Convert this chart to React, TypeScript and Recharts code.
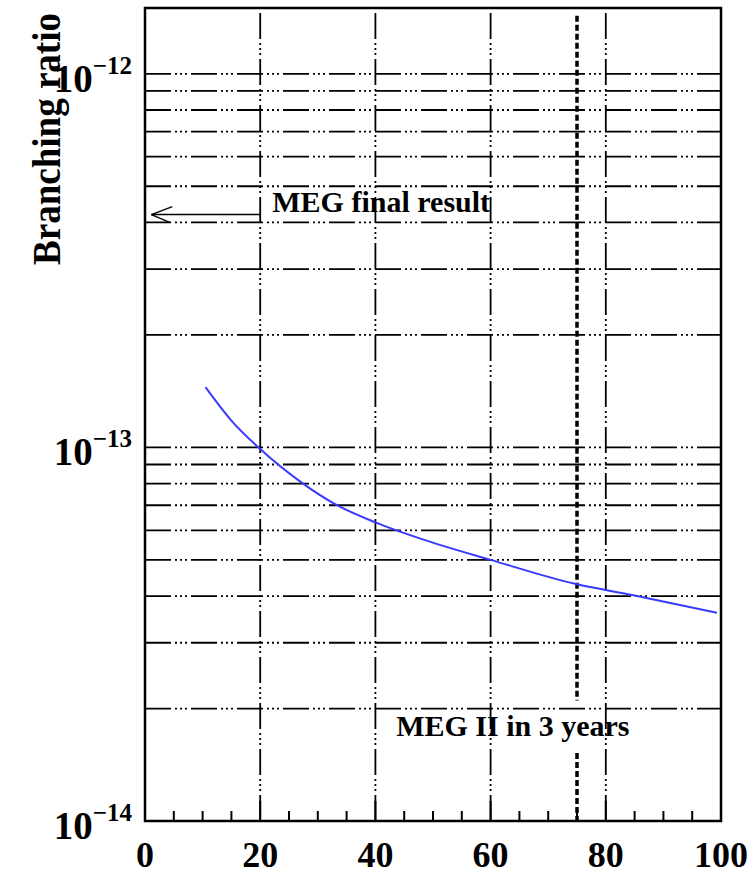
import React from 'react';
import {
  LineChart,
  Line,
  XAxis,
  YAxis,
  CartesianGrid,
  ReferenceLine,
  ReferenceDot,
  ReferenceArea,
} from 'recharts';

// ---- data ----
const xValues = [10.5, 15, 20, 27.2, 33, 40, 47.8, 60, 75, 84.8, 99.3];
const ratioValues = [
  1.45e-13, 1.18e-13, 0.99e-13, 8.05e-14, 7.05e-14, 6.3e-14, 5.7e-14, 5.0e-14, 4.3e-14, 4.02e-14,
  3.61e-14,
];
const xTicks = [0, 5, 10, 15, 20, 25, 30, 35, 40, 45, 50, 55, 60, 65, 70, 75, 80, 85, 90, 95, 100];
const xLabelTicks = [0, 20, 40, 60, 80, 100];
const xGridLines = [20, 40, 60, 80];
const yGridTicks = [
  1e-14, 2e-14, 3e-14, 4e-14, 5e-14, 6e-14, 7e-14, 8e-14, 9e-14,
  1e-13, 2e-13, 3e-13, 4e-13, 5e-13, 6e-13, 7e-13, 8e-13, 9e-13, 1e-12,
];
const yDomain = [1e-14, 1.5e-12];
const xDomain = [0, 100];
const megFinal = 4.2e-13;
const megFinalArrowStart = 1.1;
const megFinalArrowEnd = 20;
const megFinalLabel = { x: 22.1, y: 4.26e-13, text: 'MEG final result' };
const meg2X = 75;
const meg2Segments = [
  [1.43e-12, 2.1e-14],
  [1.52e-14, 1e-14],
];
const meg2Label = { x: 43.6, y: 1.69e-14, text: 'MEG II in 3 years' };
const yTitle = 'Branching ratio';

const data = xValues.map((x, i) => ({ x, ratio: ratioValues[i] }));

const FONT = '"Liberation Serif", "Times New Roman", serif';
const GRID_DASH = '26 4 2 3 2 3 2 4';

const BottomTick = (props: any) => {
  const { x, y, payload } = props;
  const v = payload.value;
  const major = v % 20 === 0;
  return (
    <g>
      <line x1={x} x2={x} y1={y} y2={y - (major ? 20 : 10)} stroke="#000" strokeWidth={2} />
      {xLabelTicks.includes(v) && (
        <text
          x={x}
          y={y + 46}
          textAnchor="middle"
          fontFamily={FONT}
          fontWeight="bold"
          fontSize={36}
          fill="#000"
        >
          {v}
        </text>
      )}
    </g>
  );
};

const TopTick = (props: any) => {
  const { x, y, payload } = props;
  const major = payload.value % 20 === 0;
  return <line x1={x} x2={x} y1={y} y2={y + (major ? 20 : 10)} stroke="#000" strokeWidth={2} />;
};

const LeftTick = (props: any) => {
  const { x, y, payload } = props;
  const v = payload.value;
  const exp = Math.round(Math.log10(v));
  if (Math.abs(v - Math.pow(10, exp)) / v > 1e-6) return <g />;
  return (
    <text x={x - 13} y={y + 18} textAnchor="end" fontFamily={FONT} fontWeight="bold" fill="#000">
      <tspan fontSize={39}>10</tspan>
      <tspan fontSize={25} dy={-18}>{`\u2212${-exp}`}</tspan>
    </text>
  );
};

const YTitle = (props: any) => {
  const vb = props.viewBox || { x: 0, y: 8 };
  const cx = vb.x + 60;
  const cy = vb.y + 131;
  return (
    <text
      x={cx}
      y={cy}
      transform={`rotate(-90, ${cx}, ${cy})`}
      textAnchor="middle"
      fontFamily={FONT}
      fontWeight="bold"
      fontSize={40}
      textLength={252}
      lengthAdjust="spacingAndGlyphs"
      fill="#000"
    >
      {yTitle}
    </text>
  );
};

const ArrowHead = (props: any) => {
  const { cx, cy } = props;
  return (
    <g stroke="#000" strokeWidth={1.3} fill="none">
      <line x1={cx} y1={cy} x2={cx + 21} y2={cy - 8} />
      <line x1={cx} y1={cy} x2={cx + 19} y2={cy + 8} />
    </g>
  );
};

const makeTextShape = (text: string) => (props: any) => {
  const { cx, cy } = props;
  return (
    <text x={cx} y={cy} fontFamily={FONT} fontWeight="bold" fontSize={30} fill="#000">
      {text}
    </text>
  );
};

export default function App() {
  return (
    <div style={{ position: 'absolute', left: 0, top: 0 }}>
      <LineChart
        width={755}
        height={873}
        data={data}
        margin={{ top: 8, right: 34, bottom: 0, left: 0 }}
        style={{ background: '#fff' }}
      >
        <CartesianGrid
          vertical={false}
          stroke="#000"
          strokeWidth={1.8}
          strokeDasharray={GRID_DASH}
        />
        <XAxis
          dataKey="x"
          type="number"
          domain={xDomain}
          ticks={xTicks}
          interval={0}
          height={52}
          axisLine={false}
          tickLine={false}
          tickSize={0}
          tickMargin={0}
          tick={<BottomTick />}
          allowDataOverflow
        />
        <XAxis
          xAxisId="top"
          orientation="top"
          type="number"
          domain={xDomain}
          ticks={xTicks}
          interval={0}
          height={0}
          axisLine={false}
          tickLine={false}
          tickSize={0}
          tickMargin={0}
          tick={<TopTick />}
          allowDataOverflow
        />
        <YAxis
          type="number"
          scale="log"
          domain={yDomain}
          ticks={yGridTicks}
          interval={0}
          width={145}
          axisLine={false}
          tickLine={false}
          tickSize={0}
          tickMargin={0}
          tick={<LeftTick />}
          allowDataOverflow
          label={{ value: yTitle, content: <YTitle /> }}
        />
        {xGridLines.map((gx) => (
          <ReferenceLine
            key={`vg${gx}`}
            x={gx}
            stroke="#000"
            strokeWidth={1.8}
            strokeDasharray={GRID_DASH}
          />
        ))}
        <ReferenceLine
          segment={[
            { x: megFinalArrowStart, y: megFinal },
            { x: megFinalArrowEnd, y: megFinal },
          ]}
          stroke="#000"
          strokeWidth={1.6}
        />
        <ReferenceDot x={megFinalArrowStart} y={megFinal} shape={<ArrowHead />} />
        <ReferenceDot x={megFinalLabel.x} y={megFinalLabel.y} shape={makeTextShape(megFinalLabel.text)} />
        <ReferenceDot x={meg2Label.x} y={meg2Label.y} shape={makeTextShape(meg2Label.text)} />
        {meg2Segments.map((s, i) => (
          <ReferenceLine
            key={`m2${i}`}
            segment={[
              { x: meg2X, y: s[0] },
              { x: meg2X, y: s[1] },
            ]}
            stroke="#000"
            strokeWidth={3.5}
            strokeDasharray="6 3"
          />
        ))}
        <Line
          dataKey="ratio"
          type="monotone"
          stroke="#3a3aff"
          strokeWidth={2}
          dot={false}
          isAnimationActive={false}
        />
        <ReferenceArea
          x1={xDomain[0]}
          x2={xDomain[1]}
          y1={yDomain[0]}
          y2={yDomain[1]}
          fill="none"
          fillOpacity={0}
          stroke="#000"
          strokeWidth={2.5}
        />
      </LineChart>
    </div>
  );
}
